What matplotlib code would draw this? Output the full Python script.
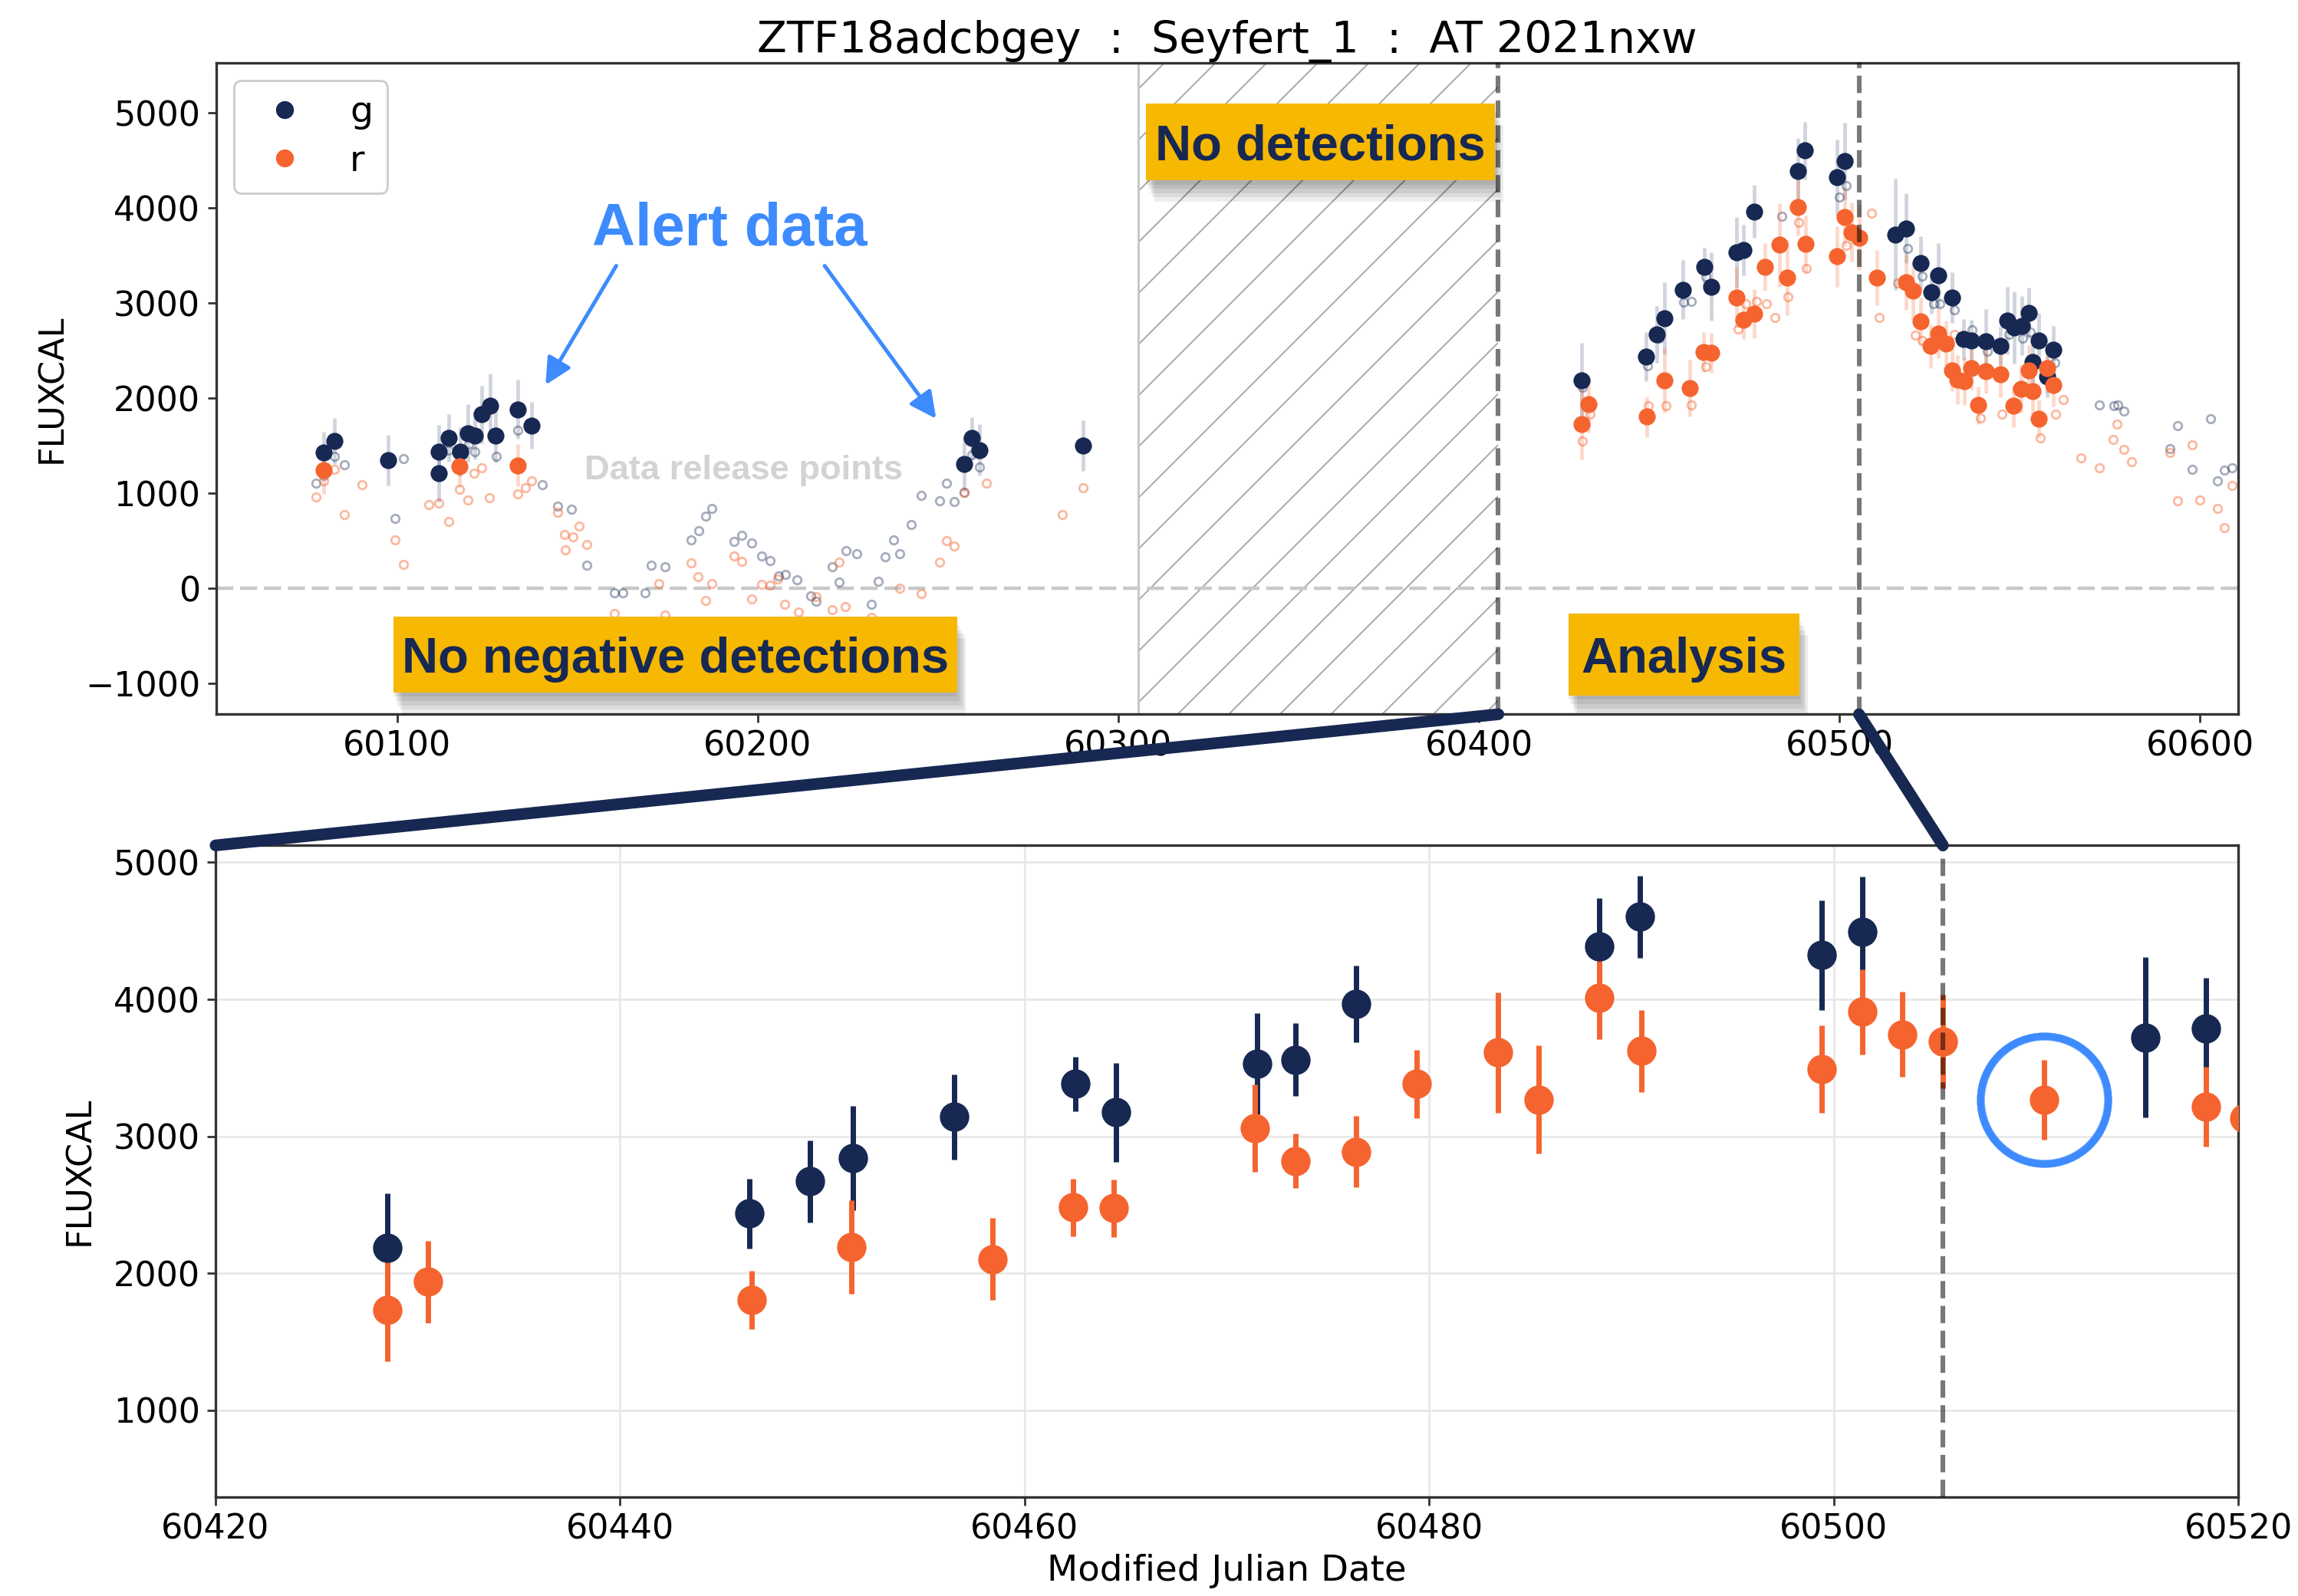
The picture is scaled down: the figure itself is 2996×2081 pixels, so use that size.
#!/usr/bin/env python3
"""
Light curve figure: ZTF alert data vs. data release points, with a zoom on the analysis window.
"""

import matplotlib.pyplot as plt
import matplotlib.patheffects as pe
from matplotlib.colors import to_rgba
from matplotlib.lines import Line2D
from matplotlib.patches import ConnectionPatch, Rectangle


# ----------------------------
# Data (MJD, FLUXCAL, error)
# ----------------------------
# alert photometry, g band
G_MJD = [60079.6, 60082.6, 60097.6, 60111.5, 60111.6, 60114.4, 60117.5, 60119.6, 60121.6, 60123.5,
         60125.8, 60127.4, 60133.5, 60137.4, 60257.2, 60259.3, 60261.6, 60290.2,
         60428.5, 60446.4, 60449.4, 60451.5, 60456.5, 60462.5, 60464.5, 60471.5, 60473.4, 60476.4,
         60488.4, 60490.4, 60499.4, 60501.4, 60515.4, 60518.4, 60522.4, 60525.5, 60527.4, 60531.3,
         60534.4, 60536.6, 60540.5, 60544.6, 60546.5, 60548.4, 60550.5, 60552.5, 60553.6, 60555.3,
         60557.6, 60559.3]
G_FLUX = [1430, 1550, 1350, 1439, 1208, 1581, 1439, 1634, 1607, 1830,
          1918, 1607, 1883, 1714, 1305, 1581, 1457, 1501,
          2185, 2437, 2672, 2840, 3143, 3382, 3175, 3532, 3560, 3966,
          4387, 4604, 4323, 4494, 3721, 3788, 3424, 3113, 3296, 3060,
          2620, 2611, 2602, 2549, 2815, 2744, 2762, 2896, 2381, 2611,
          2229, 2509]
G_ERR = [220, 245, 267, 280, 300, 250, 260, 300, 250, 300,
         344, 280, 311, 245, 290, 222, 270, 266,
         400, 255, 300, 380, 310, 200, 360, 370, 265, 280,
         350, 300, 400, 400, 585, 370, 278, 222, 338, 266,
         213, 213, 333, 200, 355, 377, 310, 266, 220, 289,
         220, 253]

# alert photometry, r band
R_MJD = [60079.6, 60117.3, 60133.5,
         60428.5, 60430.5, 60446.5, 60451.45, 60458.4, 60462.4, 60464.4, 60471.4, 60473.4, 60476.4,
         60479.4, 60483.4, 60485.4, 60488.4, 60490.5, 60499.4, 60501.4, 60503.4, 60505.4, 60510.4,
         60518.4, 60520.3, 60522.4, 60525.3, 60527.4, 60529.6, 60531.3, 60532.6, 60534.7, 60536.6,
         60538.5, 60540.5, 60544.6, 60548.3, 60550.4, 60552.5, 60553.6, 60555.3, 60557.6, 60559.3]
R_FLUX = [1243, 1283, 1296,
          1731, 1938, 1806, 2191, 2105, 2483, 2476, 3061, 2822, 2889,
          3382, 3613, 3268, 4009, 3624, 3492, 3909, 3745, 3692, 3268,
          3217, 3130, 2807, 2549, 2683, 2576, 2296, 2194, 2176, 2318,
          1927, 2283, 2252, 1918, 2096, 2296, 2074, 1786, 2318, 2140]
R_ERR = [250, 220, 220,
         370, 300, 215, 340, 300, 210, 210, 320, 200, 260,
         250, 440, 395, 300, 300, 320, 310, 310, 340, 290,
         290, 300, 250, 230, 260, 240, 220, 260, 250, 230,
         200, 230, 240, 220, 250, 260, 250, 200, 260, 230]

# data release photometry (no alert), g band
DR_G_MJD = [60077.5, 60079.7, 60082.6, 60085.4, 60099.4, 60101.7, 60114.4, 60117.5, 60119.9, 60121.6,
            60127.5, 60133.5, 60140.2, 60144.6, 60148.4, 60152.6, 60160.3, 60162.6, 60168.8, 60170.6,
            60174.4, 60181.6, 60183.7, 60185.6, 60187.3, 60193.5, 60195.7, 60198.4, 60201.2, 60203.4,
            60205.8, 60207.7, 60211.0, 60214.8, 60216.3, 60220.7, 60222.5, 60224.6, 60227.5, 60231.5,
            60233.5, 60235.4, 60237.7, 60239.4, 60242.6, 60245.4, 60250.4, 60252.3, 60254.5, 60257.3,
            60259.3, 60261.6,
            60428.8, 60446.7, 60449.9, 60456.7, 60458.8, 60462.9, 60483.9, 60489.0, 60499.9, 60501.9,
            60518.9, 60522.9, 60526.0, 60527.8, 60531.8, 60536.7, 60540.9, 60546.9, 60550.8, 60552.8,
            60559.7,
            60572.0, 60576.1, 60577.1, 60578.9, 60591.6, 60593.8, 60597.8, 60602.9, 60604.8, 60606.8,
            60608.8]
DR_G_FLUX = [1106, 1186, 1386, 1297, 733, 1363, 1452, 1261, 1519, 1439,
             1386, 1661, 1088, 866, 830, 244, -45, -45, -45, 244,
             231, 511, 608, 764, 844, 497, 555, 475, 342, 295,
             133, 145, 93, -80, -138, 231, 67, 395, 364, -169,
             75, 333, 511, 364, 675, 977, 924, 1106, 910, 1008,
             1408, 1279,
             2118, 2340, 2629, 3007, 3015, 3273, 3917, 4397, 4117, 4237,
             3575, 3286, 2998, 2993, 2931, 2718, 2496, 2673, 2629, 2696,
             2371,
             1932, 1919, 1932, 1865, 1474, 1714, 1252, 1785, 1128, 1243,
             1266]

# data release photometry (no alert), r band
DR_R_MJD = [60077.5, 60079.7, 60082.6, 60085.4, 60090.4, 60099.4, 60101.7, 60108.8, 60111.6, 60114.4,
            60117.3, 60119.6, 60121.3, 60123.5, 60125.6, 60133.5, 60135.6, 60137.4, 60144.6, 60146.4,
            60146.6, 60148.7, 60150.5, 60152.6, 60160.3, 60172.7, 60174.4, 60181.6, 60183.5, 60185.6,
            60187.4, 60193.5, 60195.7, 60198.4, 60201.2, 60203.4, 60205.6, 60207.5, 60211.4, 60216.3,
            60220.7, 60222.5, 60224.3, 60231.5, 60239.4, 60245.4, 60250.4, 60252.3, 60254.5, 60257.3,
            60263.4, 60284.6, 60290.2,
            60428.8, 60430.9, 60447.0, 60451.8, 60458.8, 60462.9, 60471.8, 60473.9, 60476.9, 60479.7,
            60482.0, 60485.8, 60488.7, 60490.9, 60501.9, 60508.8, 60511.0, 60516.1, 60521.0, 60522.9,
            60531.8, 60539.0, 60545.0, 60555.7, 60560.0, 60562.0,
            60566.9, 60572.0, 60575.9, 60576.9, 60578.9, 60580.9, 60591.7, 60593.8, 60597.8, 60600.0,
            60604.8, 60606.8, 60608.8]
DR_R_FLUX = [963, 1128, 1252, 773, 1088, 511, 253, 884, 897, 706,
             1043, 932, 1212, 1266, 955, 995, 1061, 1132, 799, 568,
             408, 541, 652, 462, -267, 53, -280, 266, 120, -125,
             53, 342, 284, -111, 44, 31, 95, -169, -249, -89,
             -222, 275, -191, -302, 1, -58, 275, 506, 444, 1008,
             1106, 777, 1061,
             1554, 1830, 1918, 1918, 1932, 2332, 2731, 2993, 3020, 2998,
             2851, 3064, 3850, 3366, 3606, 3944, 2851, 3215, 2664, 2607,
             2673, 1794, 1830, 1585, 1830, 1985,
             1372, 1266, 1563, 1732, 1465, 1332, 1430, 919, 1510, 933,
             844, 639, 1083]

# epochs marking the windows
NO_DET_START = 60305.6
ANALYSIS_START = 60405.4
ANALYSIS_END = 60505.4
HIGHLIGHT_R_INDEX = 22   # r point circled in the zoom panel

TITLE = "ZTF18adcbgey  :  Seyfert_1  :  AT 2021nxw"

# ----------------------------
# Style
# ----------------------------
NAVY = "#172852"
ORANGE = "#F5642F"
BLUE = "#3D8BFF"
YELLOW = "#F6B800"
SPINE = "#333333"

TOP_XLIM = (60049.8, 60610.6)
TOP_YLIM = (-1323, 5530)
BOT_XLIM = (60420, 60520)
BOT_YLIM = (368, 5124)

# yellow label boxes on the top panel: (x0, x1, y0, y1) in data units
BOXES = [
    ("No detections", (60307.7, 60404.4, 4293, 5099)),
    ("No negative detections", (60099.0, 60255.4, -1094, -296)),
    ("Analysis", (60424.9, 60488.9, -1126, -262)),
]


def style_axes(ax: plt.Axes) -> None:
    for spine in ax.spines.values():
        spine.set_color(SPINE)
        spine.set_linewidth(1.2)
    ax.tick_params(labelsize=16, length=3.8, width=1.0, color=SPINE)


def yellow_label(ax: plt.Axes, s: str, box) -> None:
    x0, x1, y0, y1 = box
    rect = Rectangle((x0, y0), x1 - x0, y1 - y0, fc=YELLOW, ec="none", zorder=20)
    # soft drop shadow: a few stacked translucent copies
    effects = [pe.SimplePatchShadow(offset=(dx, -dy), shadow_rgbFace="black", alpha=0.07)
               for dx, dy in ((0, 2), (1, 4), (2, 6), (3, 8), (4, 10))]
    rect.set_path_effects(effects + [pe.Normal()])
    ax.add_patch(rect)
    ax.text((x0 + x1) / 2, (y0 + y1) / 2, s, ha="center", va="center_baseline", fontsize=23.5,
            fontweight="bold", family="Liberation Sans", color=NAVY, zorder=21)


def main() -> None:
    plt.rcParams["hatch.linewidth"] = 0.7

    fig = plt.figure(figsize=(14.98, 10.405), dpi=200)
    ax_top = fig.add_axes([0.09396, 0.55247, 0.8801, 0.40831])
    ax_bot = fig.add_axes([0.0938, 0.06204, 0.8802, 0.40827])

    # ---------------- top panel: full light curve ----------------
    ax_top.axvspan(NO_DET_START, ANALYSIS_START, facecolor="none", edgecolor="#a8a8a8",
                   hatch="/", lw=0, zorder=0)
    ax_top.axvline(NO_DET_START, color="#c4c4c4", lw=1.0, zorder=0)
    ax_top.axhline(0, color="#c8c8c8", ls=(0, (5, 2)), lw=1.6, zorder=1)

    ax_top.plot(DR_G_MJD, DR_G_FLUX, "o", ms=3.8, mfc="none", mec=NAVY, mew=1.0, alpha=0.38, zorder=2)
    ax_top.plot(DR_R_MJD, DR_R_FLUX, "o", ms=3.8, mfc="none", mec=ORANGE, mew=1.0, alpha=0.45, zorder=2)

    ax_top.errorbar(G_MJD, G_FLUX, yerr=G_ERR, fmt="o", ms=7, color=NAVY,
                    ecolor=to_rgba(NAVY, 0.2), elinewidth=1.7, capsize=0, zorder=3)
    ax_top.errorbar(R_MJD, R_FLUX, yerr=R_ERR, fmt="o", ms=7, color=ORANGE,
                    ecolor=to_rgba(ORANGE, 0.25), elinewidth=1.7, capsize=0, zorder=3)

    for x in (ANALYSIS_START, ANALYSIS_END):
        ax_top.axvline(x, color="black", alpha=0.53, ls="--", lw=2.2, zorder=6)

    ax_top.set_xlim(*TOP_XLIM)
    ax_top.set_ylim(*TOP_YLIM)
    ax_top.set_xticks([60100, 60200, 60300, 60400, 60500, 60600])
    ax_top.set_yticks([-1000, 0, 1000, 2000, 3000, 4000, 5000])
    ax_top.set_ylabel("FLUXCAL", fontsize=16, labelpad=8)
    ax_top.set_title(TITLE, fontsize=20.5, pad=2.5)
    style_axes(ax_top)

    handles = [
        Line2D([], [], marker="o", ls="none", color=NAVY, ms=7.4, label="g"),
        Line2D([], [], marker="o", ls="none", color=ORANGE, ms=7.4, label="r"),
    ]
    ax_top.legend(handles=handles, loc="upper left", fontsize=17, labelspacing=0.4,
                  handletextpad=0.8, edgecolor="#cccccc", framealpha=1.0)

    # annotations
    ax_top.text(60192.3, 3606, "Alert data", ha="center", va="baseline", fontsize=28,
                fontweight="bold", family="Liberation Sans", color=BLUE, zorder=20)
    arrow = dict(arrowstyle="-|>", color=BLUE, lw=1.8, mutation_scale=26, shrinkA=0, shrinkB=0)
    ax_top.annotate("", xy=(60141.2, 2141), xytext=(60160.8, 3393), arrowprops=arrow, zorder=20)
    ax_top.annotate("", xy=(60249.5, 1785), xytext=(60218.6, 3393), arrowprops=arrow, zorder=20)
    ax_top.text(60196.1, 1150, "Data release points", ha="center", va="baseline", fontsize=16.3,
                fontweight="bold", family="Liberation Sans", color="#d3d3d3", zorder=20)

    for text, box in BOXES:
        yellow_label(ax_top, text, box)

    # ---------------- bottom panel: zoom on analysis window ----------------
    ax_bot.grid(True, color="#e8e8e8", lw=1.0)
    ax_bot.set_axisbelow(True)
    ax_bot.errorbar(G_MJD, G_FLUX, yerr=G_ERR, fmt="o", ms=12.8, color=NAVY,
                    elinewidth=2.5, capsize=0, zorder=3)
    ax_bot.errorbar(R_MJD, R_FLUX, yerr=R_ERR, fmt="o", ms=12.8, color=ORANGE,
                    elinewidth=2.5, capsize=0, zorder=3)
    ax_bot.axvline(ANALYSIS_END, color="black", alpha=0.53, ls="--", lw=2.2, zorder=6)

    # hand-drawn style circle around the highlighted r point
    hx, hy = R_MJD[HIGHLIGHT_R_INDEX], R_FLUX[HIGHLIGHT_R_INDEX]
    ax_bot.plot([hx], [hy], "o", ms=60, mfc="none", mec=BLUE, mew=3.4, zorder=7)
    ax_bot.plot([hx], [hy], "o", ms=57.5, mfc="none", mec=BLUE, mew=1.6, alpha=0.6, zorder=7)
    ax_bot.plot([hx], [hy], "o", ms=62.5, mfc="none", mec=BLUE, mew=1.0, alpha=0.4, zorder=7)

    ax_bot.set_xlim(*BOT_XLIM)
    ax_bot.set_ylim(*BOT_YLIM)
    ax_bot.set_xticks([60420, 60440, 60460, 60480, 60500, 60520])
    ax_bot.set_yticks([1000, 2000, 3000, 4000, 5000])
    ax_bot.set_ylabel("FLUXCAL", fontsize=16, labelpad=8)
    ax_bot.set_xlabel("Modified Julian Date", fontsize=16.8)
    style_axes(ax_bot)

    # zoom connectors
    for xa, xb in ((ANALYSIS_START, BOT_XLIM[0]), (ANALYSIS_END, ANALYSIS_END)):
        con = ConnectionPatch(xyA=(xa, TOP_YLIM[0]), coordsA=ax_top.transData,
                              xyB=(xb, BOT_YLIM[1]), coordsB=ax_bot.transData,
                              color=NAVY, lw=5.5, zorder=30)
        fig.add_artist(con)

    fig.savefig("out.png", dpi=200)
    plt.close(fig)


if __name__ == "__main__":
    main()
